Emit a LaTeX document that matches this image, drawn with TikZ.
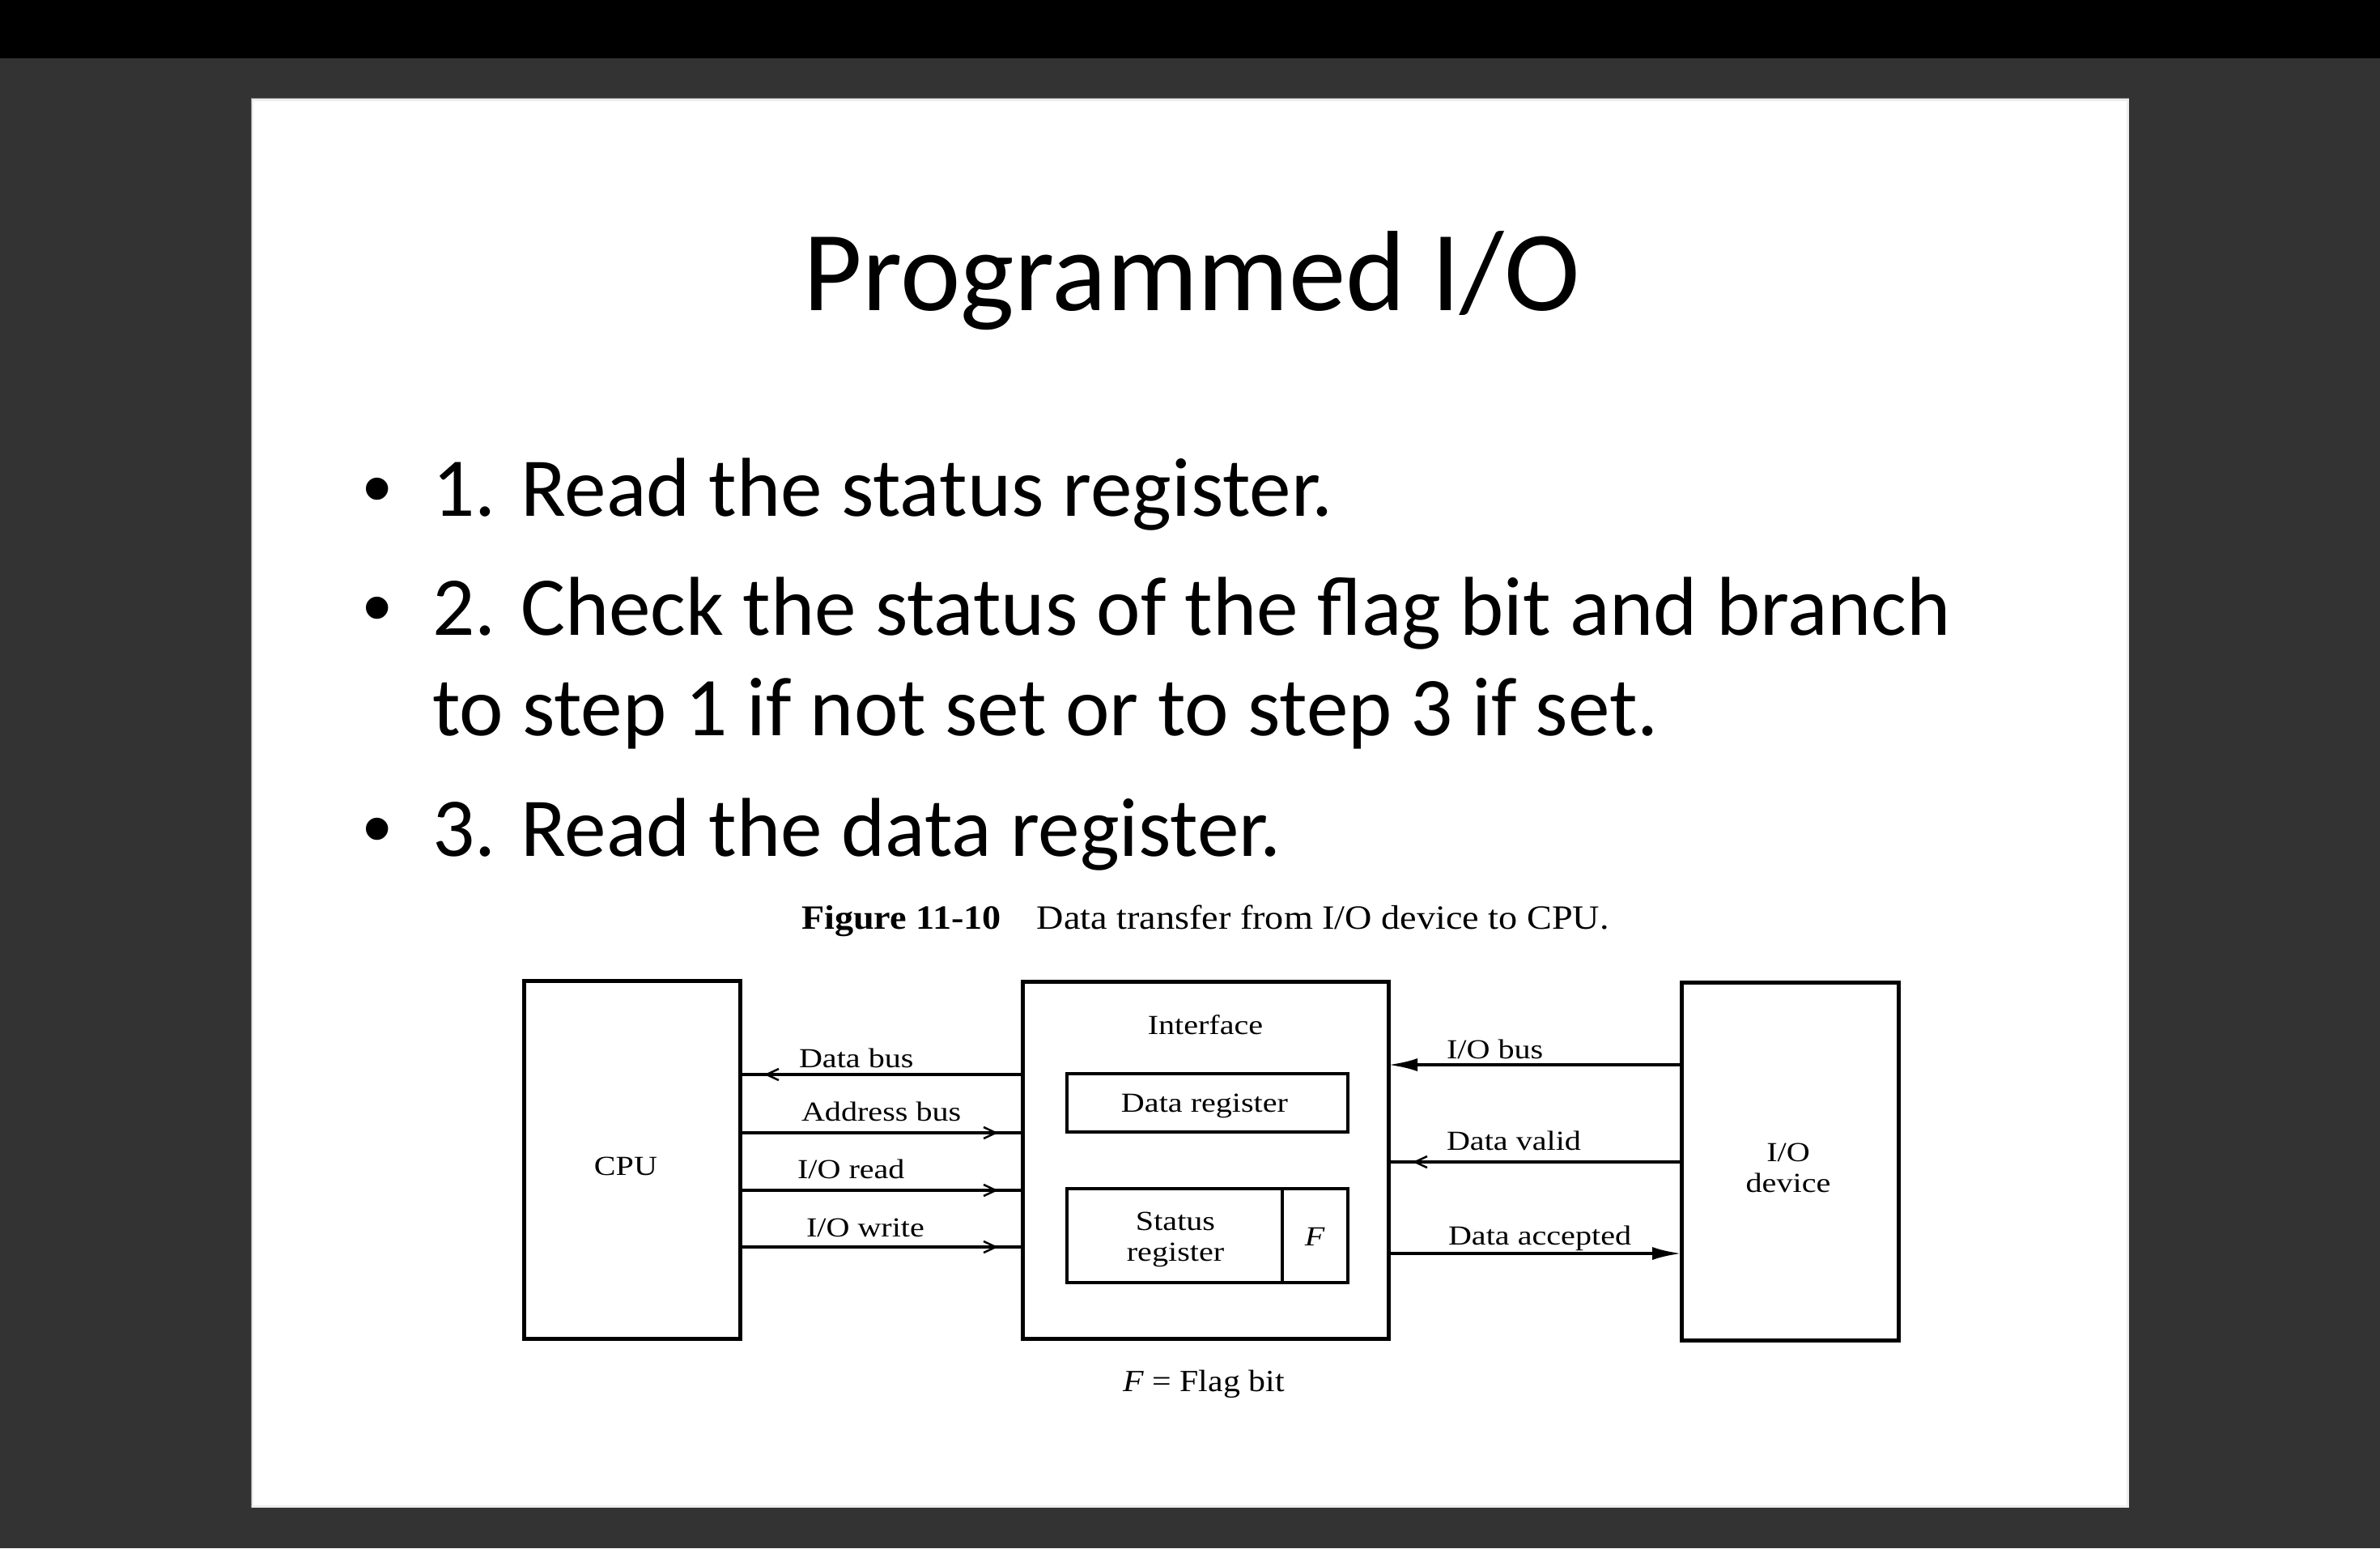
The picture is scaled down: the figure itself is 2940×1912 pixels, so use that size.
\documentclass[tikz,border=0pt]{standalone}
\usepackage{fontspec}
\setmainfont{Carlito}
\newfontfamily\bulletfont{Liberation Sans}
\newfontfamily\figfont[FakeStretch=1.18]{Liberation Serif}
\newfontfamily\capfont[FakeStretch=1.1]{Liberation Serif}
\usetikzlibrary{arrows.meta,decorations.markings}
\definecolor{stage}{HTML}{333333}
\definecolor{slideedge}{HTML}{EEEEEE}
\definecolor{slideline}{HTML}{8A8A8A}
\begin{document}
\begin{tikzpicture}[x=0.1pt,y=-0.1pt,
  txt/.style={inner sep=0pt, outer sep=0pt},
  slidetext/.style={txt, anchor=base west, font=\fontsize{10.32pt}{12pt}\selectfont},
  bulletmark/.style={txt, anchor=base, font=\bulletfont\fontsize{10.1pt}{12pt}\selectfont},
  figtext/.style={txt, font=\figfont\fontsize{3.4pt}{3.8pt}\selectfont},
  lbl/.style={figtext, anchor=base west},
  blk/.style={draw, line width=0.5pt, inner sep=0pt, outer sep=0pt},
  reg/.style={draw, line width=0.4pt, inner sep=0pt, outer sep=0pt},
  wire/.style={line width=0.4pt},
  solidhead/.style={-{Latex[length=3.6pt,width=1.6pt]}},
  barbend/.style={postaction={decorate},
    decoration={markings, mark=at position -3pt with {\arrow[line width=0.25pt]{Straight Barb[length=1.5pt,width=1.4pt]}}}}
]
\useasboundingbox (0,0) rectangle (2940,1912);

% backdrop and slide
\fill[stage] (0,0) rectangle (2940,1912);
\fill[black] (0,0) rectangle (2940,72);
\fill[slideedge] (310,121) rectangle (2630,1862);
\draw[slideline, line width=0.1pt] (310,1862) -- (310,121) -- (2630,121);
\fill[white] (313,125) rectangle (2627,1859);

% title and bullet list
\node[txt, anchor=base, font=\fontsize{14.1pt}{16pt}\selectfont] (title) at (1472,383) {Programmed I/O};

\node[bulletmark] (dot1) at (466,637) {•};
\node[slidetext] (item1) at (534,637) {1. Read the status register.};
\node[bulletmark] (dot2) at (466,784) {•};
\node[slidetext] (item2) at (534,784) {2. Check the status of the flag bit and branch};
\node[slidetext] (item2b) at (534,908) {to step 1 if not set or to step 3 if set.};
\node[bulletmark] (dot3) at (466,1057) {•};
\node[slidetext] (item3) at (534,1057) {3. Read the data register.};

% figure caption
\node[txt, anchor=base west, font=\capfont\fontsize{4.2pt}{5pt}\selectfont] (caption) at (990,1147)
  {\textbf{Figure 11-10}\hspace{4.4pt}Data transfer from I/O device to CPU.};

% blocks
\node[blk, minimum width=26.7pt, minimum height=44.2pt] (cpu) at (780.5,1432) {};
\node[blk, minimum width=45.2pt, minimum height=44.1pt] (iface) at (1489,1432.5) {};
\node[blk, minimum width=26.8pt, minimum height=44.2pt] (dev) at (2211,1434) {};
\node[reg, minimum width=34.7pt, minimum height=7.2pt] (datareg) at (1491.5,1362) {};
\node[reg, minimum width=26.6pt, minimum height=11.6pt] (statreg) at (1451,1526) {};
\node[reg, line width=0.35pt, minimum width=8.1pt, minimum height=11.6pt] (flagbit) at (1624.5,1526) {};

% block labels
\node[figtext, anchor=base] (cpulbl) at (773,1451) {CPU};
\node[figtext, anchor=base] (ifacelbl) at (1489,1277) {Interface};
\node[figtext, anchor=base] (datareglbl) at (1488,1373) {Data register};
\node[figtext, align=center] (statreglbl) at (1452,1531) {Status\\register};
\node[figtext, font=\figfont\itshape\fontsize{3.4pt}{3.8pt}\selectfont] (flaglbl) at (1624,1527) {F};
\node[figtext, align=center] (devlbl) at (2209,1442) {I/O\\device};
\node[txt, anchor=base, font=\capfont\fontsize{3.8pt}{4.5pt}\selectfont] (flagnote) at (1487,1718) {\textit{F} = Flag bit};

% signal levels
\coordinate (yDB) at (0,1327);
\coordinate (yAB) at (0,1399);
\coordinate (yRD) at (0,1470);
\coordinate (yWR) at (0,1540);
\coordinate (yIO) at (0,1315);
\coordinate (yDV) at (0,1435);
\coordinate (yDA) at (0,1548);

% CPU side connections
\draw[wire, barbend] (iface.west |- yDB) -- (cpu.east |- yDB);
\draw[wire, barbend] (cpu.east |- yAB) -- (iface.west |- yAB);
\draw[wire, barbend] (cpu.east |- yRD) -- (iface.west |- yRD);
\draw[wire, barbend] (cpu.east |- yWR) -- (iface.west |- yWR);
\node[lbl] (dblbl) at (987,1318) {Data bus};
\node[lbl] (ablbl) at (990,1384) {Address bus};
\node[lbl] (rdlbl) at (985,1455) {I/O read};
\node[lbl] (wrlbl) at (996,1527) {I/O write};

% device side connections
\draw[wire, solidhead] (dev.west |- yIO) -- (iface.east |- yIO);
\draw[wire, barbend] (dev.west |- yDV) -- (iface.east |- yDV);
\draw[wire, solidhead] (iface.east |- yDA) -- (dev.west |- yDA);
\node[lbl] (iolbl) at (1787,1307) {I/O bus};
\node[lbl] (dvlbl) at (1787,1420) {Data valid};
\node[lbl] (dalbl) at (1789,1537) {Data accepted};
\end{tikzpicture}
\end{document}
